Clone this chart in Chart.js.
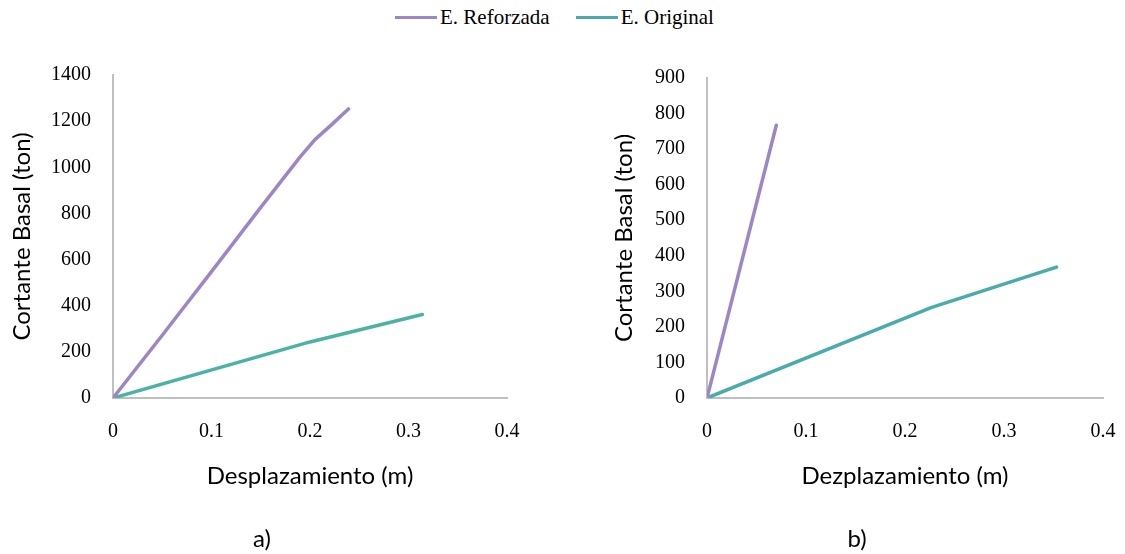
<!DOCTYPE html>
<html>
<head>
<meta charset="utf-8">
<script src="https://cdn.jsdelivr.net/npm/chart.js@4"></script>
<style>
  body { margin: 0; background: #fff; width: 1125px; height: 554px; position: relative; overflow: hidden; }
  canvas { position: absolute; top: 0; }
  #chartA { left: 0; }
  #chartB { left: 590px; }
  #legend { position: absolute; top: 5px; left: -8px; width: 1125px; text-align: center; font: 21px "Liberation Serif", serif; color: #000; }
  .item { display: inline-block; margin: 0 13px; }
  .swatch { display: inline-block; width: 42px; height: 3px; vertical-align: middle; margin-right: 3px; position: relative; top: -2px; }
</style>
</head>
<body>
<div id="legend"></div>
<canvas id="chartA" width="543" height="554"></canvas>
<canvas id="chartB" width="549" height="554"></canvas>
<script>
// series names
const seriesNames = ['E. Reforzada', 'E. Original'];

// a) desplazamiento (m) vs cortante basal (ton)
const reforzadaA_x = [0, 0.05, 0.1, 0.15, 0.19, 0.205, 0.222, 0.239];
const reforzadaA_y = [0, 272, 548, 826, 1045, 1120, 1185, 1253];
const originalA_x = [0, 0.2, 0.314];
const originalA_y = [0, 243, 362];

// b)
const reforzadaB_x = [0, 0.07];
const reforzadaB_y = [0, 767];
const originalB_x = [0, 0.227, 0.353];
const originalB_y = [0, 255, 368];

const xTicks = [0, 0.1, 0.2, 0.3, 0.4];

const colors = {
    purple: '#9d86c6',
    tealA: '#4cb3a4',
    tealB: '#4aabab',
    axis: '#bfbfbf'
};

const pts = (xs, ys) => xs.map((x, i) => ({ x: x, y: ys[i] }));

function line(label, xs, ys, color) {
    return {
        label: label,
        data: pts(xs, ys),
        borderColor: color,
        backgroundColor: color,
        borderWidth: 3.5,
        pointRadius: 0,
        tension: 0,
        borderCapStyle: 'round',
        borderJoinStyle: 'round'
    };
}

function makeChart(id, opts) {
    return new Chart(document.getElementById(id), {
        type: 'line',
        data: { datasets: opts.datasets },
        options: {
            responsive: false,
            animation: false,
            devicePixelRatio: 1,
            layout: { padding: { top: opts.top, right: 36, left: opts.left, bottom: 0 } },
            plugins: {
                legend: { display: false },
                tooltip: { enabled: false },
                title: {
                    display: true,
                    text: opts.tag,
                    position: 'bottom',
                    color: '#000',
                    font: { family: 'Lato', size: 24, weight: 'normal' },
                    padding: { top: 10, bottom: 0 }
                }
            },
            scales: {
                x: {
                    type: 'linear',
                    min: 0, max: 0.4,
                    afterBuildTicks: s => { s.ticks = xTicks.map(v => ({ value: v })); },
                    afterFit: s => { s.height = 117.2; },
                    grid: { display: false, drawTicks: false },
                    border: { display: true, color: colors.axis, width: 2 },
                    ticks: {
                        padding: 22,
                        color: '#000',
                        font: { family: 'Liberation Serif', size: 20 },
                        callback: v => String(v)
                    },
                    title: {
                        display: true,
                        text: opts.xTitle,
                        color: '#000',
                        font: { family: 'Lato', size: 24 },
                        padding: { top: 0, bottom: 25 }
                    }
                },
                y: {
                    min: 0, max: opts.yMax,
                    ticks: {
                        stepSize: opts.yStep,
                        padding: 22,
                        color: '#000',
                        font: { family: 'Liberation Serif', size: 20 },
                        callback: v => String(v)
                    },
                    afterFit: s => { s.width = 96; },
                    grid: { display: false, drawTicks: false },
                    border: { display: true, color: colors.axis, width: 2 },
                    title: {
                        display: true,
                        text: 'Cortante Basal (ton)',
                        color: '#000',
                        font: { family: 'Lato', size: 24 },
                        padding: { top: opts.yTitlePad, bottom: 0 }
                    }
                }
            }
        }
    });
}

makeChart('chartA', {
    datasets: [
        line(seriesNames[0], reforzadaA_x, reforzadaA_y, colors.purple),
        line(seriesNames[1], originalA_x, originalA_y, colors.tealA)
    ],
    yMax: 1400, yStep: 200, yTitlePad: -9.4,
    top: 75, left: 17,
    xTitle: 'Desplazamiento (m)', tag: 'a)'
});

makeChart('chartB', {
    datasets: [
        line(seriesNames[0], reforzadaB_x, reforzadaB_y, colors.purple),
        line(seriesNames[1], originalB_x, originalB_y, colors.tealB)
    ],
    yMax: 900, yStep: 100, yTitlePad: -1.4,
    top: 78, left: 21,
    xTitle: 'Dezplazamiento (m)', tag: 'b)'
});

// shared legend at the top
const legend = document.getElementById('legend');
[colors.purple, colors.tealB].forEach((c, i) => {
    const item = document.createElement('span');
    item.className = 'item';
    item.innerHTML = '<span class="swatch" style="background:' + c + '"></span>' + seriesNames[i];
    legend.appendChild(item);
});
</script>
</body>
</html>
